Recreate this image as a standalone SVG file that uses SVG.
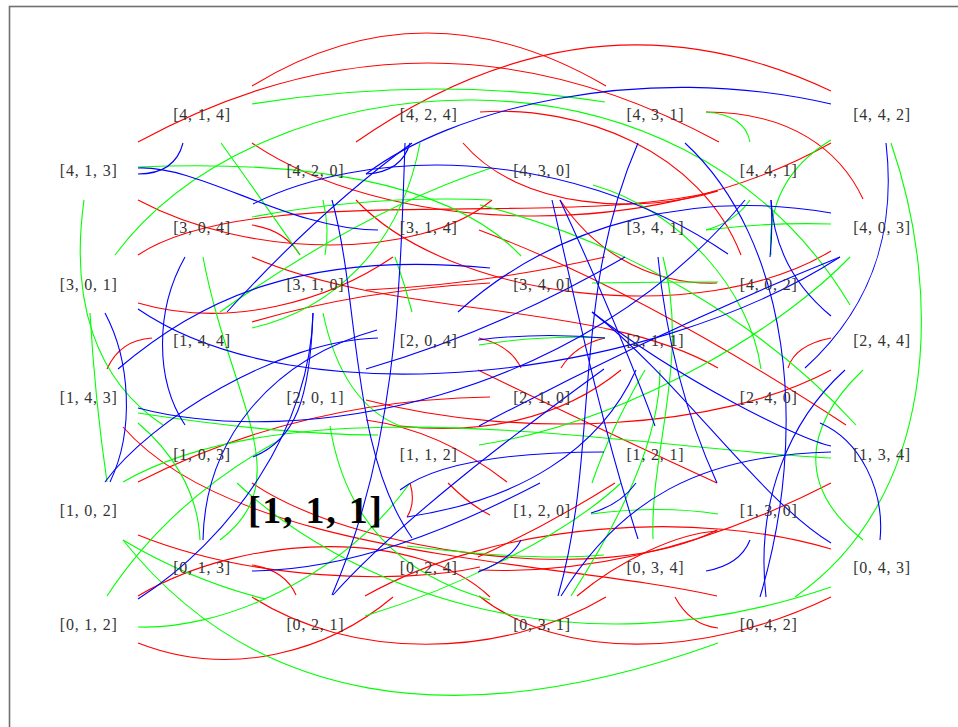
<svg xmlns="http://www.w3.org/2000/svg" width="958" height="727" viewBox="0 0 958 727">
<style>
.r{stroke:#ff0000}.g{stroke:#00ff00}.b{stroke:#0000ff}
#edges path{fill:none;stroke-width:1.1}
.lbl{font-family:"Liberation Serif","DejaVu Serif",serif;font-size:16px;fill:#333;text-anchor:middle}
.big{font-family:"Liberation Serif","DejaVu Serif",serif;font-size:38px;font-weight:bold;fill:#000;text-anchor:middle}
</style>
<rect x="0" y="0" width="958" height="727" fill="#fff"/>
<rect x="9.5" y="6.5" width="962" height="740" fill="none" stroke="#707070" stroke-width="1.6"/>
<g id="edges">
<path class="r" d="M252,86 Q425,-20 606,86"/>
<path class="r" d="M138,142 Q428,-16 719,142"/>
<path class="r" d="M356,142 Q592,-22 831,91"/>
<path class="r" d="M252,143 C380,230 640,250 831,143"/>
<path class="r" d="M138,255 C250,180 560,230 717,191"/>
<path class="r" d="M138,200 C250,260 420,260 492,200"/>
<path class="r" d="M480,112 C580,105 700,150 741,255"/>
<path class="r" d="M706,112 C790,112 840,150 863,199"/>
<path class="r" d="M463,143 C520,210 640,215 718,191"/>
<path class="r" d="M560,200 C600,260 660,285 717,283"/>
<path class="r" d="M846,425 Q640,290 479,230"/>
<path class="r" d="M107,369 Q120,340 152,338"/>
<path class="r" d="M138,303 C230,330 330,300 393,257"/>
<path class="r" d="M252,257 C400,320 600,300 718,368"/>
<path class="r" d="M252,322 Q360,290 490,283"/>
<path class="r" d="M123,427 C240,560 560,560 717,596"/>
<path class="r" d="M138,482 Q300,400 490,397"/>
<path class="r" d="M831,370 C720,430 520,440 366,400"/>
<path class="r" d="M356,200 C450,300 700,330 831,251"/>
<path class="r" d="M788,368 Q795,345 831,338"/>
<path class="r" d="M561,368 Q575,345 605,338"/>
<path class="r" d="M521,368 Q510,345 479,338"/>
<path class="r" d="M605,257 Q480,285 366,290"/>
<path class="r" d="M621,370 C560,420 480,435 400,426"/>
<path class="r" d="M478,370 Q580,420 717,483"/>
<path class="r" d="M366,420 Q440,430 507,482"/>
<path class="r" d="M138,535 C250,580 400,585 480,567"/>
<path class="r" d="M252,565 Q285,570 296,595"/>
<path class="r" d="M252,597 C350,660 500,660 606,597"/>
<path class="r" d="M138,643 C233,680 330,650 393,597"/>
<path class="r" d="M138,596 C250,530 420,530 490,597"/>
<path class="r" d="M252,483 C350,550 600,590 717,530"/>
<path class="r" d="M365,596 C500,520 700,510 831,549"/>
<path class="r" d="M410,483 Q416,503 407,517"/>
<path class="r" d="M448,483 Q470,505 490,515"/>
<path class="r" d="M479,596 C560,660 700,660 831,597"/>
<path class="r" d="M675,597 Q690,625 718,628"/>
<path class="r" d="M831,483 C720,540 600,575 479,570"/>
<path class="r" d="M577,596 C620,560 678,533 718,531"/>
<path class="r" d="M615,483 Q545,527 478,557"/>
<path class="r" d="M252,225 Q285,230 300,255"/>
<path class="g" d="M252,104 Q431,75 605,102"/>
<path class="g" d="M115,255 C260,60 680,20 850,305"/>
<path class="g" d="M221,143 Q255,190 300,255"/>
<path class="g" d="M138,167 C300,160 450,180 521,256"/>
<path class="g" d="M706,112 Q745,115 750,142"/>
<path class="g" d="M831,140 Q765,180 771,255"/>
<path class="g" d="M891,143 C945,300 935,500 795,597"/>
<path class="g" d="M706,230 Q770,222 831,224"/>
<path class="g" d="M84,200 C70,300 95,380 163,425"/>
<path class="g" d="M90,313 Q95,400 107,482"/>
<path class="g" d="M203,257 C230,400 300,480 220,540"/>
<path class="g" d="M220,312 Q364,210 491,168"/>
<path class="g" d="M252,328 C330,310 400,250 420,143"/>
<path class="g" d="M323,313 C335,370 360,410 400,426"/>
<path class="g" d="M138,413 C250,430 320,435 378,435"/>
<path class="g" d="M592,283 Q655,282 718,282"/>
<path class="g" d="M850,257 C790,320 640,420 479,445"/>
<path class="g" d="M863,370 C800,430 800,490 863,540"/>
<path class="g" d="M856,425 C760,320 620,240 480,205"/>
<path class="g" d="M663,257 C690,360 650,450 653,539"/>
<path class="g" d="M605,338 Q540,335 479,345"/>
<path class="g" d="M645,370 Q610,430 592,483"/>
<path class="g" d="M831,458 C650,450 300,380 123,482"/>
<path class="g" d="M593,185 C680,210 750,290 761,369"/>
<path class="g" d="M123,540 Q190,580 265,599"/>
<path class="g" d="M123,540 C250,700 450,740 718,643"/>
<path class="g" d="M138,627 C220,630 340,580 410,483"/>
<path class="g" d="M107,596 Q170,500 280,440"/>
<path class="g" d="M200,540 C198,490 170,450 138,423"/>
<path class="g" d="M237,483 C340,580 560,680 831,587"/>
<path class="g" d="M330,426 C345,520 400,575 490,600"/>
<path class="g" d="M365,616 C450,590 560,540 621,483"/>
<path class="g" d="M407,546 C480,555 550,560 604,555"/>
<path class="g" d="M718,514 Q660,505 591,514"/>
<path class="g" d="M571,596 C620,520 660,440 660,370"/>
<path class="g" d="M323,200 Q330,230 325,255"/>
<path class="g" d="M252,217 Q370,195 491,200"/>
<path class="g" d="M395,257 Q405,285 412,312"/>
<path class="g" d="M750,200 Q735,222 706,230"/>
<path class="b" d="M138,174 Q175,174 183,143"/>
<path class="b" d="M138,168 C200,165 290,230 378,230"/>
<path class="b" d="M253,204 C360,150 560,140 728,254"/>
<path class="b" d="M366,174 Q402,172 410,143"/>
<path class="b" d="M412,143 Q320,210 227,312"/>
<path class="b" d="M831,104 C640,60 450,110 366,174"/>
<path class="b" d="M685,143 C790,240 810,430 760,597"/>
<path class="b" d="M771,200 Q773,230 770,257"/>
<path class="b" d="M771,200 Q775,270 831,316"/>
<path class="b" d="M886,143 C895,220 880,300 805,368"/>
<path class="b" d="M552,200 C575,300 600,420 638,539"/>
<path class="b" d="M560,200 Q620,330 655,426"/>
<path class="b" d="M831,213 C700,190 560,220 458,312"/>
<path class="b" d="M138,408 C300,450 580,400 745,200"/>
<path class="b" d="M105,313 C130,360 135,430 110,482"/>
<path class="b" d="M118,369 C200,300 300,250 490,268"/>
<path class="b" d="M138,309 C300,420 650,380 840,257"/>
<path class="b" d="M185,257 C155,310 155,380 185,425"/>
<path class="b" d="M313,313 C310,430 230,540 138,599"/>
<path class="b" d="M313,313 C310,400 295,440 253,457"/>
<path class="b" d="M378,338 C280,340 150,420 105,482"/>
<path class="b" d="M332,200 C360,300 350,450 412,538"/>
<path class="b" d="M405,143 C400,300 395,450 332,595"/>
<path class="b" d="M840,257 Q660,330 479,426"/>
<path class="b" d="M845,370 C790,420 755,500 766,597"/>
<path class="b" d="M592,312 C680,380 800,440 831,446"/>
<path class="b" d="M658,257 Q670,380 717,483"/>
<path class="b" d="M638,143 C570,300 600,450 558,596"/>
<path class="b" d="M605,338 Q540,332 478,340"/>
<path class="b" d="M625,257 Q500,330 366,369"/>
<path class="b" d="M820,423 C860,440 885,490 880,540"/>
<path class="b" d="M252,571 C350,570 450,530 540,483"/>
<path class="b" d="M203,540 C205,440 270,360 377,330"/>
<path class="b" d="M333,595 C400,520 520,430 604,369"/>
<path class="b" d="M636,370 C600,450 520,500 407,517"/>
<path class="b" d="M400,490 C440,460 520,452 604,452"/>
<path class="b" d="M706,571 Q740,565 750,540"/>
<path class="b" d="M592,312 C680,380 760,500 831,543"/>
<path class="b" d="M591,513 Q620,505 636,483"/>
<path class="b" d="M561,596 C620,500 700,455 831,452"/>
<path class="b" d="M521,540 Q511,560 478,572"/>
</g>
<g id="nodes">
<g id="n414"><text class="lbl" x="201.7" y="119.5" textLength="57">[4, 1, 4]</text></g>
<g id="n424"><text class="lbl" x="428.3" y="119.5" textLength="57">[4, 2, 4]</text></g>
<g id="n431"><text class="lbl" x="655" y="119.5" textLength="57">[4, 3, 1]</text></g>
<g id="n442"><text class="lbl" x="881.7" y="119.5" textLength="57">[4, 4, 2]</text></g>
<g id="n413"><text class="lbl" x="88.3" y="176.2" textLength="57">[4, 1, 3]</text></g>
<g id="n420"><text class="lbl" x="315" y="176.2" textLength="57">[4, 2, 0]</text></g>
<g id="n430"><text class="lbl" x="541.7" y="176.2" textLength="57">[4, 3, 0]</text></g>
<g id="n441"><text class="lbl" x="768.3" y="176.2" textLength="57">[4, 4, 1]</text></g>
<g id="n304"><text class="lbl" x="201.7" y="232.9" textLength="57">[3, 0, 4]</text></g>
<g id="n314"><text class="lbl" x="428.3" y="232.9" textLength="57">[3, 1, 4]</text></g>
<g id="n341"><text class="lbl" x="655" y="232.9" textLength="57">[3, 4, 1]</text></g>
<g id="n403"><text class="lbl" x="881.7" y="232.9" textLength="57">[4, 0, 3]</text></g>
<g id="n301"><text class="lbl" x="88.3" y="289.6" textLength="57">[3, 0, 1]</text></g>
<g id="n310"><text class="lbl" x="315" y="289.6" textLength="57">[3, 1, 0]</text></g>
<g id="n340"><text class="lbl" x="541.7" y="289.6" textLength="57">[3, 4, 0]</text></g>
<g id="n402"><text class="lbl" x="768.3" y="289.6" textLength="57">[4, 0, 2]</text></g>
<g id="n144"><text class="lbl" x="201.7" y="346.3" textLength="57">[1, 4, 4]</text></g>
<g id="n204"><text class="lbl" x="428.3" y="346.3" textLength="57">[2, 0, 4]</text></g>
<g id="n211"><text class="lbl" x="655" y="346.3" textLength="57">[2, 1, 1]</text></g>
<g id="n244"><text class="lbl" x="881.7" y="346.3" textLength="57">[2, 4, 4]</text></g>
<g id="n143"><text class="lbl" x="88.3" y="403" textLength="57">[1, 4, 3]</text></g>
<g id="n201"><text class="lbl" x="315" y="403" textLength="57">[2, 0, 1]</text></g>
<g id="n210"><text class="lbl" x="541.7" y="403" textLength="57">[2, 1, 0]</text></g>
<g id="n240"><text class="lbl" x="768.3" y="403" textLength="57">[2, 4, 0]</text></g>
<g id="n103"><text class="lbl" x="201.7" y="459.7" textLength="57">[1, 0, 3]</text></g>
<g id="n112"><text class="lbl" x="428.3" y="459.7" textLength="57">[1, 1, 2]</text></g>
<g id="n121"><text class="lbl" x="655" y="459.7" textLength="57">[1, 2, 1]</text></g>
<g id="n134"><text class="lbl" x="881.7" y="459.7" textLength="57">[1, 3, 4]</text></g>
<g id="n102"><text class="lbl" x="88.3" y="516.4" textLength="57">[1, 0, 2]</text></g>
<g id="n111"><text class="big" x="315" y="523" textLength="134">[1, 1, 1]</text></g>
<g id="n120"><text class="lbl" x="541.7" y="516.4" textLength="57">[1, 2, 0]</text></g>
<g id="n130"><text class="lbl" x="768.3" y="516.4" textLength="57">[1, 3, 0]</text></g>
<g id="n013"><text class="lbl" x="201.7" y="573.1" textLength="57">[0, 1, 3]</text></g>
<g id="n024"><text class="lbl" x="428.3" y="573.1" textLength="57">[0, 2, 4]</text></g>
<g id="n034"><text class="lbl" x="655" y="573.1" textLength="57">[0, 3, 4]</text></g>
<g id="n043"><text class="lbl" x="881.7" y="573.1" textLength="57">[0, 4, 3]</text></g>
<g id="n012"><text class="lbl" x="88.3" y="629.8" textLength="57">[0, 1, 2]</text></g>
<g id="n021"><text class="lbl" x="315" y="629.8" textLength="57">[0, 2, 1]</text></g>
<g id="n031"><text class="lbl" x="541.7" y="629.8" textLength="57">[0, 3, 1]</text></g>
<g id="n042"><text class="lbl" x="768.3" y="629.8" textLength="57">[0, 4, 2]</text></g>
</g>
</svg>
